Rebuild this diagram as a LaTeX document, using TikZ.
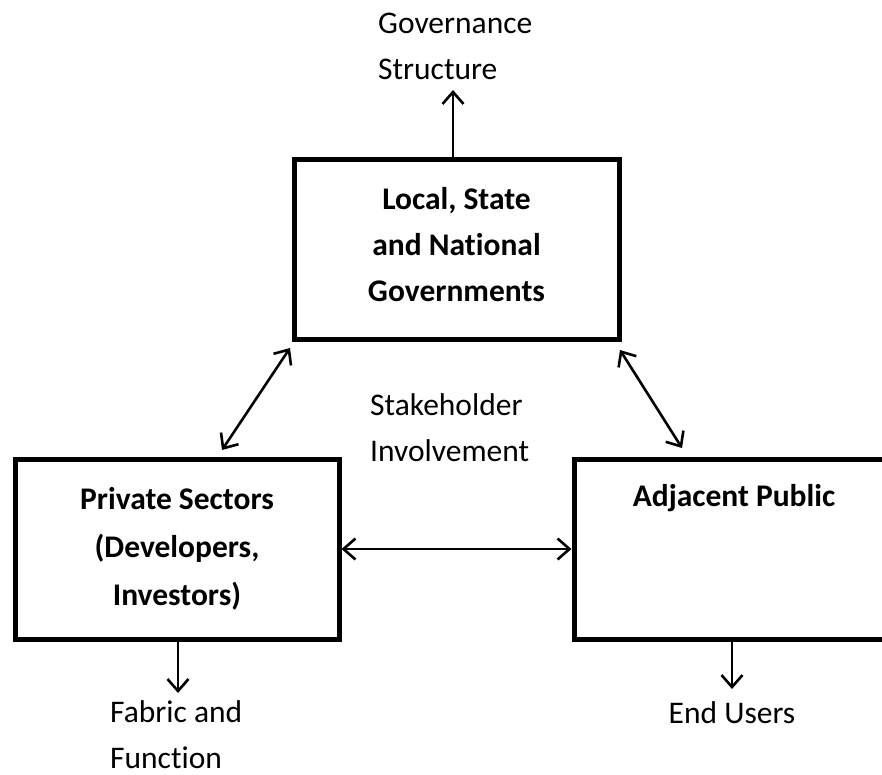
\documentclass[tikz,border=0pt]{standalone}
\usepackage{fontspec}
\setmainfont{Carlito}[Ligatures={NoCommon,NoContextual,NoRare}]
\usetikzlibrary{arrows.meta,calc}
\tikzset{
  box/.style={draw=black, line width=5pt, rectangle, inner sep=0pt, align=center, font=\fontsize{31.5}{46}\selectfont\bfseries},
  lbl/.style={inner sep=0pt, font=\fontsize{31.5}{46}\selectfont},
  arr/.style={line width=2.6pt, -{Straight Barb[length=12pt,width=21pt,line width=2.6pt]}},
  dbl/.style={line width=2.6pt, {Straight Barb[length=12pt,width=21pt,line width=2.6pt]}-{Straight Barb[length=12pt,width=21pt,line width=2.6pt]}}
}
\begin{document}
\begin{tikzpicture}[x=1pt,y=-1pt]
\useasboundingbox (0,0) rectangle (882,774);
\begin{scope}
\clip (0,0) rectangle (882,774);
\node[box, minimum width=325pt, minimum height=180pt] (gov) at (456.5,249) {Local, State\\and National\\Governments\rule[-10pt]{0pt}{0pt}};
\node[box, minimum width=324pt, minimum height=180pt, font=\fontsize{31.5}{48}\selectfont\bfseries] (ps) at (177,549) {Private Sectors\\(Developers,\\Investors)};
\node[box, minimum width=330pt, minimum height=180pt] (ap) at (739,549) {};
\end{scope}
\node[lbl] (aptext) at (734,498) {\bfseries Adjacent Public};
\node[lbl, align=left, anchor=west] (gs) at (378,46) {Governance\\Structure};
\node[lbl, align=left, anchor=west] (sh) at (370,427.5) {Stakeholder\\Involvement};
\node[lbl, align=left, anchor=west] (ff) at (110,735) {Fabric and\\Function};
\node[lbl] (eu) at (732,713) {End Users};
\coordinate (gstip) at (453,90);
\coordinate (fftip) at (178,693);
\coordinate (eutip) at (732,689);
\draw[arr] (gstip |- gov.north) -- (gstip);
\draw[arr] (fftip |- ps.south) -- (fftip);
\draw[arr] (eutip |- ap.south) -- (eutip);
\draw[dbl] ([shift={(-1.5,6.5)}]gov.south west) -- ([shift={(209.5,-6.5)}]ps.north west);
\draw[dbl] ([shift={(-1.5,8.5)}]gov.south east) -- ([shift={(110.5,-8.5)}]ap.north west);
\draw[dbl] (ps.east) -- (ap.west);
\end{tikzpicture}
\end{document}
